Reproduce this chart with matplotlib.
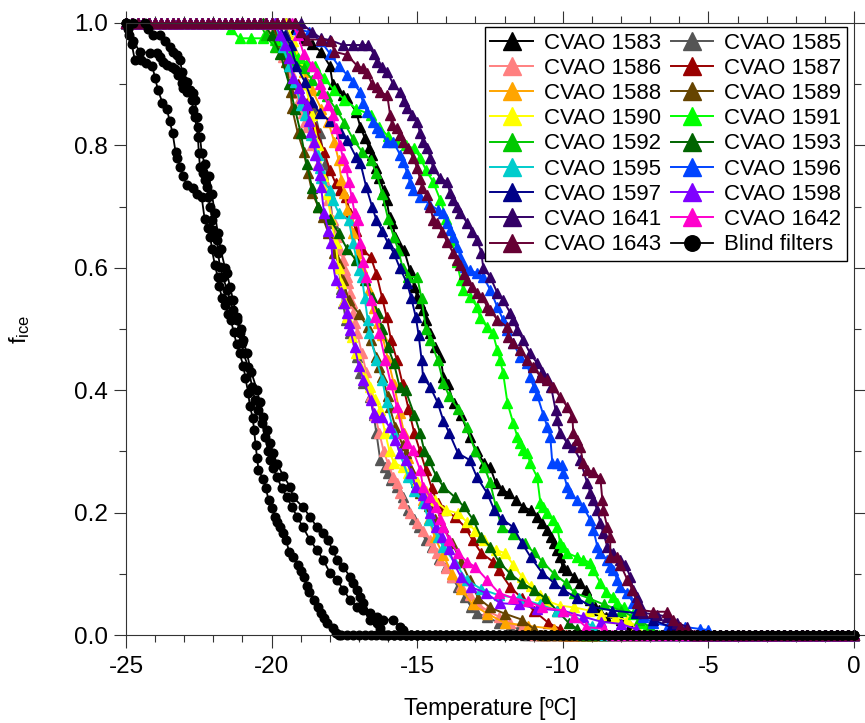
###### Ice nucleation spectra, CVAO filter samples vs blind filters ######

import matplotlib
matplotlib.use('Agg')
from matplotlib import pyplot as plt
from matplotlib.ticker import MultipleLocator

plt.rcParams['font.family'] = ['Liberation Sans', 'DejaVu Sans']
plt.rcParams['mathtext.default'] = 'regular'
plt.rcParams['axes.unicode_minus'] = False

# ----- temperature readout steps where a curve sits flat at f=1 or f=0 ----- #
grid_t = [-25.0, -24.8, -24.6, -24.4, -24.2, -24.0, -23.8, -23.6, -23.4, -23.2,
          -23.0, -22.8, -22.6, -22.4, -22.2, -22.0, -21.8, -21.6, -21.4, -21.2,
          -21.0, -20.8, -20.6, -20.4, -20.2, -20.0, -19.8, -19.6, -19.4, -19.2,
          -19.0, -18.8, -18.6, -18.4, -18.2, -18.0, -17.8, -17.6, -17.4, -17.2,
          -17.0, -16.8, -16.6, -16.4, -16.2, -16.0, -15.8, -15.6, -15.4, -15.2,
          -15.0, -14.8, -14.6, -14.4, -14.2, -14.0, -13.8, -13.6, -13.4, -13.2,
          -13.0, -12.8, -12.6, -12.4, -12.2, -12.0, -11.8, -11.6, -11.4, -11.2,
          -11.0, -10.8, -10.6, -10.4, -10.2, -10.0, -9.8, -9.6, -9.4, -9.2,
          -9.0, -8.8, -8.6, -8.4, -8.2, -8.0, -7.8, -7.6, -7.4, -7.2,
          -7.0, -6.8, -6.6, -6.4, -6.2, -6.0, -5.8, -5.6, -5.4, -5.2,
          -5.0, -4.8, -4.6, -4.4, -4.2, -4.0, -3.8, -3.6, -3.4, -3.2,
          -3.0, -2.8, -2.6, -2.4, -2.2, -2.0, -1.8, -1.6, -1.4, -1.2,
          -1.0, -0.8, -0.6, -0.4, -0.2, 0.0]

# ----- freezing part of each spectrum: (temperature degC, f_ice) ----- #
cvao_1583 = [(-19.5, 1.0), (-19.2, 0.99), (-18.9, 0.975), (-18.6, 0.965), (-18.3, 0.953), (-18.0, 0.93),
             (-17.9, 0.90), (-17.75, 0.894), (-17.55, 0.882), (-17.4, 0.877), (-17.1, 0.855), (-16.95, 0.83),
             (-16.8, 0.812), (-16.65, 0.796), (-16.55, 0.784), (-16.4, 0.763), (-16.3, 0.747), (-16.15, 0.727),
             (-16.05, 0.71), (-15.95, 0.683), (-15.85, 0.673), (-15.75, 0.65), (-15.6, 0.634), (-15.45, 0.629),
             (-15.25, 0.596), (-15.1, 0.569), (-15.0, 0.552), (-14.9, 0.542), (-14.8, 0.531), (-14.7, 0.515),
             (-14.55, 0.493), (-14.4, 0.47), (-14.2, 0.454), (-14.1, 0.422), (-13.95, 0.41), (-13.75, 0.379),
             (-13.5, 0.36), (-13.2, 0.324), (-12.95, 0.30), (-12.7, 0.281), (-12.5, 0.275), (-12.3, 0.248),
             (-12.1, 0.237), (-11.85, 0.232), (-11.6, 0.22), (-11.35, 0.209), (-11.1, 0.204), (-10.9, 0.193),
             (-10.7, 0.183), (-10.55, 0.172), (-10.4, 0.16), (-10.3, 0.15), (-10.2, 0.139), (-10.1, 0.127),
             (-10.0, 0.111), (-9.85, 0.106), (-9.6, 0.095), (-9.4, 0.085), (-9.2, 0.074), (-9.05, 0.057),
             (-8.9, 0.046), (-8.75, 0.041), (-8.5, 0.03), (-8.0, 0.025), (-7.7, 0.015), (-7.5, 0.0)]

cvao_1585 = [(-19.6, 1.0), (-19.3, 0.97), (-19.0, 0.94), (-18.75, 0.9), (-18.55, 0.86), (-18.35, 0.82),
             (-18.15, 0.77), (-18.0, 0.72), (-17.9, 0.673), (-17.8, 0.64), (-17.7, 0.6), (-17.6, 0.565),
             (-17.55, 0.542), (-17.45, 0.515), (-17.3, 0.493), (-17.06, 0.454), (-16.96, 0.428), (-16.86, 0.412),
             (-16.62, 0.389), (-16.5, 0.36), (-16.4, 0.33), (-16.27, 0.286), (-16.1, 0.275), (-16.0, 0.265),
             (-15.9, 0.253), (-15.7, 0.242), (-15.5, 0.225), (-15.3, 0.204), (-15.1, 0.19), (-14.95, 0.176),
             (-14.7, 0.155), (-14.5, 0.144), (-14.25, 0.125), (-14.0, 0.111), (-13.8, 0.095), (-13.6, 0.078),
             (-13.35, 0.062), (-13.15, 0.046), (-12.95, 0.036), (-12.6, 0.029), (-12.2, 0.02), (-11.8, 0.013),
             (-11.5, 0.01), (-11.3, 0.0)]

cvao_1586 = [(-20.3, 1.0), (-20.1, 0.98), (-19.85, 0.96), (-19.6, 0.945), (-19.45, 0.936), (-19.35, 0.92),
             (-19.25, 0.9), (-19.12, 0.885), (-19.07, 0.874), (-19.02, 0.863), (-18.92, 0.853), (-18.85, 0.838),
             (-18.78, 0.83), (-18.6, 0.8), (-18.4, 0.77), (-18.2, 0.743), (-18.05, 0.71), (-17.89, 0.678),
             (-17.75, 0.65), (-17.65, 0.629), (-17.54, 0.613), (-17.47, 0.596), (-17.41, 0.585), (-17.37, 0.575),
             (-17.3, 0.559), (-17.23, 0.542), (-17.2, 0.526), (-17.13, 0.51), (-17.06, 0.493), (-16.9, 0.46),
             (-16.75, 0.43), (-16.6, 0.39), (-16.45, 0.36), (-16.3, 0.33), (-16.15, 0.3), (-16.0, 0.28),
             (-15.82, 0.258), (-15.69, 0.248), (-15.58, 0.232), (-15.48, 0.216), (-15.24, 0.199), (-15.0, 0.183),
             (-14.8, 0.17), (-14.55, 0.155), (-14.45, 0.144), (-14.31, 0.134), (-14.21, 0.123), (-14.0, 0.11),
             (-13.8, 0.095), (-13.5, 0.08), (-13.2, 0.065), (-12.9, 0.05), (-12.6, 0.04), (-12.2, 0.03),
             (-11.8, 0.02), (-11.4, 0.012), (-11.0, 0.0)]

cvao_1587 = [(-20.0, 1.0), (-19.7, 0.97), (-19.4, 0.93), (-19.1, 0.9), (-18.8, 0.869), (-18.5, 0.83),
             (-18.2, 0.79), (-18.0, 0.76), (-17.8, 0.738), (-17.65, 0.727), (-17.45, 0.716), (-17.3, 0.69),
             (-17.1, 0.66), (-16.9, 0.63), (-16.6, 0.618), (-16.4, 0.59), (-16.2, 0.55), (-16.05, 0.52),
             (-15.9, 0.482), (-15.7, 0.45), (-15.5, 0.41), (-15.3, 0.37), (-15.1, 0.33), (-14.9, 0.3),
             (-14.7, 0.27), (-14.5, 0.24), (-14.3, 0.215), (-14.1, 0.205), (-13.7, 0.193), (-13.35, 0.176),
             (-13.1, 0.155), (-12.8, 0.134), (-12.4, 0.12), (-12.2, 0.106), (-11.8, 0.078), (-11.4, 0.06),
             (-11.0, 0.04), (-10.5, 0.02), (-10.1, 0.01), (-9.9, 0.0)]

cvao_1588 = [(-19.8, 1.0), (-19.5, 0.97), (-19.2, 0.95), (-18.9, 0.92), (-18.6, 0.89), (-18.3, 0.86),
             (-18.05, 0.838), (-17.85, 0.806), (-17.7, 0.776), (-17.6, 0.743), (-17.5, 0.722), (-17.4, 0.694),
             (-17.3, 0.678), (-17.2, 0.657), (-17.05, 0.624), (-16.9, 0.6), (-16.8, 0.585), (-16.65, 0.564),
             (-16.5, 0.535), (-16.35, 0.51), (-16.2, 0.49), (-16.0, 0.45), (-15.8, 0.41), (-15.6, 0.363),
             (-15.45, 0.33), (-15.3, 0.29), (-15.2, 0.27), (-15.0, 0.25), (-14.8, 0.22), (-14.6, 0.19),
             (-14.4, 0.16), (-14.1, 0.13), (-13.8, 0.1), (-13.5, 0.075), (-13.1, 0.05), (-12.6, 0.035),
             (-12.0, 0.02), (-11.2, 0.015), (-10.3, 0.01), (-10.0, 0.0)]

cvao_1589 = [(-20.2, 1.0), (-19.8, 0.98), (-19.6, 0.964), (-19.5, 0.936), (-19.35, 0.887), (-19.3, 0.861),
             (-19.1, 0.82), (-18.9, 0.79), (-18.75, 0.755), (-18.6, 0.722), (-18.4, 0.7), (-18.25, 0.683),
             (-18.05, 0.657), (-17.85, 0.624), (-17.7, 0.608), (-17.55, 0.58), (-17.35, 0.547), (-17.0, 0.525),
             (-16.7, 0.503), (-16.6, 0.482), (-16.4, 0.455), (-16.3, 0.438), (-16.2, 0.422), (-16.0, 0.39),
             (-15.95, 0.373), (-15.75, 0.34), (-15.5, 0.31), (-15.4, 0.297), (-15.2, 0.27), (-15.05, 0.25),
             (-14.9, 0.232), (-14.6, 0.21), (-14.4, 0.19), (-14.1, 0.176), (-13.8, 0.15), (-13.5, 0.12),
             (-13.2, 0.09), (-12.9, 0.06), (-12.5, 0.045), (-12.0, 0.035), (-11.4, 0.025), (-11.0, 0.01),
             (-10.7, 0.0)]

cvao_1590 = [(-19.5, 1.0), (-19.25, 0.97), (-19.05, 0.94), (-18.85, 0.9), (-18.6, 0.85), (-18.4, 0.8),
             (-18.25, 0.75), (-18.1, 0.72), (-17.95, 0.68), (-17.8, 0.64), (-17.7, 0.6), (-17.6, 0.575),
             (-17.5, 0.545), (-17.4, 0.52), (-17.25, 0.487), (-17.1, 0.46), (-16.95, 0.44), (-16.8, 0.42),
             (-16.62, 0.405), (-16.45, 0.385), (-16.27, 0.368), (-16.1, 0.33), (-15.95, 0.3), (-15.8, 0.281),
             (-15.5, 0.275), (-15.3, 0.265), (-15.0, 0.25), (-14.7, 0.235), (-14.4, 0.22), (-14.0, 0.204),
             (-13.6, 0.199), (-13.3, 0.185), (-13.0, 0.17), (-12.7, 0.155), (-12.3, 0.139), (-12.0, 0.134),
             (-11.7, 0.115), (-11.4, 0.095), (-11.1, 0.08), (-10.8, 0.065), (-10.5, 0.055), (-10.1, 0.048),
             (-9.6, 0.045), (-9.1, 0.04), (-8.7, 0.033), (-8.2, 0.028), (-7.8, 0.025), (-7.5, 0.015),
             (-7.3, 0.0)]

cvao_1591 = [(-21.6, 1.0), (-21.4, 0.99), (-21.1, 0.975), (-20.7, 0.975), (-20.3, 0.975), (-19.9, 0.972),
             (-19.6, 0.972), (-19.35, 0.955), (-19.1, 0.943), (-18.8, 0.935), (-18.5, 0.93), (-18.2, 0.91),
             (-17.85, 0.89), (-17.5, 0.875), (-17.1, 0.86), (-16.6, 0.85), (-16.3, 0.83), (-16.0, 0.815),
             (-15.7, 0.806), (-15.4, 0.8), (-15.1, 0.795), (-14.9, 0.78), (-14.7, 0.76), (-14.45, 0.74),
             (-14.2, 0.71), (-14.0, 0.68), (-13.8, 0.645), (-13.65, 0.61), (-13.5, 0.58), (-13.42, 0.563),
             (-13.18, 0.552), (-12.94, 0.536), (-12.84, 0.518), (-12.6, 0.503), (-12.4, 0.493), (-12.25, 0.466),
             (-12.15, 0.449), (-12.05, 0.428), (-11.9, 0.379), (-11.7, 0.346), (-11.56, 0.324), (-11.46, 0.314),
             (-11.36, 0.302), (-11.22, 0.297), (-11.12, 0.281), (-10.88, 0.258), (-10.77, 0.216), (-10.67, 0.209),
             (-10.53, 0.199), (-10.33, 0.188), (-10.19, 0.176), (-10.09, 0.15), (-9.98, 0.144), (-9.85, 0.134),
             (-9.5, 0.127), (-9.3, 0.123), (-9.05, 0.118), (-8.95, 0.106), (-8.71, 0.085), (-8.5, 0.07),
             (-8.26, 0.062), (-8.13, 0.052), (-7.9, 0.046), (-7.6, 0.035), (-7.34, 0.02), (-7.15, 0.01),
             (-7.0, 0.0)]

cvao_1592 = [(-20.4, 1.0), (-20.2, 0.98), (-19.9, 0.96), (-19.6, 0.953), (-19.3, 0.94), (-18.9, 0.926),
             (-18.6, 0.907), (-18.3, 0.89), (-18.1, 0.88), (-17.8, 0.86), (-17.5, 0.837), (-17.2, 0.81),
             (-16.9, 0.79), (-16.6, 0.776), (-16.4, 0.755), (-16.2, 0.72), (-16.0, 0.68), (-15.8, 0.65),
             (-15.65, 0.629), (-15.5, 0.6), (-15.3, 0.585), (-15.0, 0.585), (-14.85, 0.55), (-14.7, 0.5),
             (-14.55, 0.482), (-14.3, 0.45), (-14.1, 0.412), (-13.9, 0.39), (-13.6, 0.37), (-13.3, 0.34),
             (-13.0, 0.3), (-12.7, 0.275), (-12.5, 0.25), (-12.3, 0.21), (-12.1, 0.176), (-11.7, 0.165),
             (-11.3, 0.15), (-11.0, 0.135), (-10.7, 0.12), (-10.3, 0.1), (-9.9, 0.085), (-9.6, 0.069),
             (-9.1, 0.06), (-8.6, 0.05), (-8.0, 0.04), (-7.4, 0.025), (-7.0, 0.013), (-6.7, 0.0)]

cvao_1593 = [(-20.3, 1.0), (-20.0, 0.98), (-19.7, 0.95), (-19.4, 0.9), (-19.2, 0.86), (-19.0, 0.82),
             (-18.8, 0.77), (-18.6, 0.73), (-18.4, 0.7), (-18.0, 0.68), (-17.7, 0.657), (-17.4, 0.63),
             (-17.1, 0.613), (-16.8, 0.58), (-16.55, 0.552), (-16.35, 0.526), (-16.2, 0.5), (-16.0, 0.47),
             (-15.8, 0.444), (-15.6, 0.405), (-15.4, 0.4), (-15.1, 0.36), (-14.9, 0.33), (-14.75, 0.3),
             (-14.6, 0.286), (-14.35, 0.26), (-14.1, 0.242), (-13.7, 0.225), (-13.4, 0.21), (-13.1, 0.19),
             (-12.8, 0.16), (-12.5, 0.144), (-12.2, 0.12), (-11.8, 0.1), (-11.4, 0.085), (-11.0, 0.074),
             (-10.6, 0.06), (-10.2, 0.04), (-9.8, 0.02), (-9.5, 0.01), (-9.3, 0.0)]

cvao_1595 = [(-19.9, 1.0), (-19.6, 0.96), (-19.4, 0.93), (-19.2, 0.903), (-19.0, 0.866), (-18.85, 0.85),
             (-18.65, 0.817), (-18.4, 0.784), (-18.35, 0.763), (-18.3, 0.747), (-18.0, 0.727), (-17.9, 0.711),
             (-17.7, 0.69), (-17.35, 0.678), (-17.2, 0.64), (-17.0, 0.596), (-16.9, 0.585), (-16.8, 0.55),
             (-16.7, 0.515), (-16.65, 0.493), (-16.4, 0.45), (-16.2, 0.417), (-16.05, 0.38), (-15.8, 0.33),
             (-15.6, 0.297), (-15.3, 0.258), (-15.1, 0.235), (-14.8, 0.216), (-14.6, 0.188), (-14.3, 0.16),
             (-14.1, 0.144), (-13.7, 0.118), (-13.3, 0.09), (-12.8, 0.075), (-12.2, 0.065), (-11.5, 0.06),
             (-10.8, 0.05), (-10.2, 0.04), (-9.6, 0.03), (-9.0, 0.015), (-8.6, 0.0)]

cvao_1596 = [(-19.4, 1.0), (-19.1, 0.99), (-18.7, 0.985), (-18.3, 0.97), (-18.0, 0.95), (-17.7, 0.93),
             (-17.4, 0.915), (-17.2, 0.903), (-16.96, 0.887), (-16.86, 0.87), (-16.72, 0.855), (-16.51, 0.838),
             (-16.37, 0.828), (-16.27, 0.822), (-16.03, 0.806), (-15.82, 0.806), (-15.58, 0.784), (-15.48, 0.773),
             (-15.34, 0.755), (-15.24, 0.738), (-15.14, 0.727), (-14.9, 0.715), (-14.6, 0.705), (-14.28, 0.694),
             (-14.1, 0.69), (-13.97, 0.673), (-13.87, 0.662), (-13.76, 0.65), (-13.62, 0.634), (-13.52, 0.618),
             (-13.35, 0.601), (-13.18, 0.596), (-12.94, 0.591), (-12.73, 0.585), (-12.49, 0.564), (-12.25, 0.536),
             (-12.05, 0.515), (-11.9, 0.498), (-11.7, 0.477), (-11.46, 0.454), (-11.22, 0.444), (-11.12, 0.422),
             (-11.0, 0.405), (-10.88, 0.392), (-10.67, 0.36), (-10.53, 0.34), (-10.43, 0.324), (-10.36, 0.281),
             (-10.19, 0.281), (-10.02, 0.278), (-9.98, 0.265), (-9.85, 0.242), (-9.74, 0.232), (-9.5, 0.22),
             (-9.3, 0.209), (-9.05, 0.188), (-8.95, 0.172), (-8.81, 0.144), (-8.71, 0.134), (-8.47, 0.123),
             (-8.37, 0.111), (-8.26, 0.106), (-8.13, 0.09), (-8.02, 0.078), (-7.78, 0.069), (-7.58, 0.052),
             (-7.44, 0.041), (-7.23, 0.029), (-6.9, 0.02), (-6.4, 0.015), (-5.8, 0.013), (-5.3, 0.01),
             (-5.0, 0.008), (-4.8, 0.0)]

cvao_1597 = [(-19.8, 1.0), (-19.55, 0.98), (-19.35, 0.964), (-19.15, 0.93), (-18.85, 0.903), (-18.6, 0.871),
             (-18.35, 0.853), (-18.0, 0.84), (-17.6, 0.82), (-17.4, 0.809), (-17.1, 0.781), (-16.95, 0.771),
             (-16.75, 0.732), (-16.55, 0.7), (-16.4, 0.678), (-16.2, 0.66), (-16.0, 0.64), (-15.8, 0.624),
             (-15.6, 0.6), (-15.35, 0.575), (-15.2, 0.55), (-15.05, 0.52), (-14.95, 0.49), (-14.85, 0.45),
             (-14.8, 0.422), (-14.55, 0.405), (-14.3, 0.38), (-14.1, 0.35), (-13.9, 0.33), (-13.6, 0.297),
             (-13.2, 0.286), (-12.95, 0.258), (-12.6, 0.232), (-12.35, 0.204), (-12.1, 0.19), (-11.7, 0.176),
             (-11.4, 0.15), (-11.1, 0.127), (-10.7, 0.101), (-10.3, 0.085), (-10.0, 0.074), (-9.5, 0.06),
             (-9.0, 0.046), (-8.3, 0.04), (-7.5, 0.036), (-6.9, 0.025), (-6.3, 0.013), (-5.8, 0.0)]

cvao_1598 = [(-19.9, 1.0), (-19.7, 0.98), (-19.55, 0.964), (-19.4, 0.943), (-19.25, 0.91), (-19.05, 0.894),
             (-18.95, 0.877), (-18.8, 0.866), (-18.7, 0.84), (-18.65, 0.822), (-18.55, 0.806), (-18.5, 0.784),
             (-18.4, 0.768), (-18.35, 0.752), (-18.3, 0.732), (-18.2, 0.69), (-18.05, 0.66), (-17.95, 0.64),
             (-17.9, 0.608), (-17.8, 0.58), (-17.6, 0.56), (-17.5, 0.542), (-17.4, 0.526), (-17.35, 0.51),
             (-17.3, 0.498), (-17.15, 0.47), (-17.0, 0.44), (-16.85, 0.417), (-16.6, 0.384), (-16.5, 0.363),
             (-16.4, 0.356), (-16.2, 0.356), (-15.95, 0.34), (-15.75, 0.319), (-15.6, 0.297), (-15.4, 0.286),
             (-15.2, 0.265), (-15.05, 0.242), (-14.8, 0.228), (-14.7, 0.216), (-14.55, 0.199), (-14.35, 0.176),
             (-14.15, 0.16), (-13.9, 0.14), (-13.75, 0.118), (-13.5, 0.095), (-13.15, 0.078), (-12.65, 0.069),
             (-12.15, 0.052), (-11.5, 0.05), (-10.9, 0.043), (-10.0, 0.04), (-9.3, 0.03), (-8.7, 0.022),
             (-8.0, 0.018), (-7.5, 0.01), (-7.2, 0.0)]

cvao_1641 = [(-19.0, 1.0), (-18.6, 0.985), (-18.3, 0.975), (-17.99, 0.972), (-17.54, 0.964), (-17.2, 0.964),
             (-16.9, 0.964), (-16.68, 0.964), (-16.5, 0.95), (-16.37, 0.936), (-16.2, 0.928), (-16.03, 0.92),
             (-15.82, 0.9), (-15.58, 0.887), (-15.45, 0.872), (-15.34, 0.861), (-15.17, 0.85), (-15.0, 0.838),
             (-14.9, 0.82), (-14.79, 0.805), (-14.66, 0.796), (-14.55, 0.78), (-14.45, 0.763), (-14.21, 0.747),
             (-13.97, 0.74), (-13.87, 0.722), (-13.76, 0.711), (-13.65, 0.7), (-13.52, 0.69), (-13.28, 0.673),
             (-13.11, 0.659), (-12.94, 0.645), (-12.8, 0.625), (-12.73, 0.6), (-12.49, 0.585), (-12.25, 0.559),
             (-12.05, 0.547), (-11.8, 0.526), (-11.7, 0.515), (-11.56, 0.498), (-11.36, 0.482), (-11.12, 0.46),
             (-10.88, 0.444), (-10.7, 0.43), (-10.53, 0.42), (-10.4, 0.405), (-10.25, 0.368), (-10.19, 0.351),
             (-10.09, 0.33), (-9.85, 0.314), (-9.64, 0.307), (-9.4, 0.286), (-9.16, 0.248), (-9.05, 0.232),
             (-8.95, 0.22), (-8.81, 0.204), (-8.71, 0.183), (-8.61, 0.167), (-8.47, 0.144), (-8.26, 0.134),
             (-8.02, 0.123), (-7.85, 0.114), (-7.68, 0.095), (-7.58, 0.074), (-7.44, 0.062), (-7.3, 0.045),
             (-7.23, 0.036), (-6.75, 0.033), (-6.41, 0.03), (-6.07, 0.02), (-5.72, 0.013), (-5.5, 0.0)]

cvao_1642 = [(-19.3, 1.0), (-19.1, 0.98), (-18.9, 0.95), (-18.6, 0.93), (-18.45, 0.918), (-18.35, 0.9),
             (-18.25, 0.885), (-18.05, 0.866), (-17.9, 0.85), (-17.8, 0.828), (-17.65, 0.8), (-17.55, 0.78),
             (-17.45, 0.765), (-17.35, 0.74), (-17.25, 0.716), (-17.15, 0.69), (-17.05, 0.678), (-16.95, 0.64),
             (-16.85, 0.61), (-16.75, 0.585), (-16.6, 0.547), (-16.45, 0.52), (-16.3, 0.493), (-16.1, 0.45),
             (-15.9, 0.41), (-15.7, 0.373), (-15.5, 0.33), (-15.35, 0.314), (-15.15, 0.302), (-14.9, 0.27),
             (-14.8, 0.242), (-14.55, 0.225), (-14.35, 0.209), (-14.2, 0.19), (-14.1, 0.176), (-13.9, 0.155),
             (-13.6, 0.134), (-13.3, 0.12), (-13.0, 0.111), (-12.6, 0.09), (-12.2, 0.069), (-11.7, 0.06),
             (-11.2, 0.055), (-10.7, 0.045), (-10.0, 0.04), (-9.6, 0.03), (-9.2, 0.013), (-8.6, 0.01),
             (-8.3, 0.0)]

cvao_1643 = [(-19.2, 1.0), (-19.0, 0.985), (-18.8, 0.973), (-18.3, 0.973), (-17.95, 0.97), (-17.85, 0.953),
             (-17.41, 0.948), (-17.06, 0.93), (-16.86, 0.926), (-16.72, 0.918), (-16.55, 0.9), (-16.37, 0.895),
             (-16.27, 0.887), (-16.03, 0.882), (-15.93, 0.85), (-15.86, 0.833), (-15.69, 0.828), (-15.58, 0.817),
             (-15.48, 0.806), (-15.31, 0.796), (-15.14, 0.78), (-15.0, 0.763), (-14.9, 0.745), (-14.83, 0.73),
             (-14.66, 0.719), (-14.55, 0.7), (-14.45, 0.678), (-14.31, 0.673), (-14.14, 0.659), (-13.97, 0.642),
             (-13.76, 0.624), (-13.62, 0.613), (-13.52, 0.605), (-13.4, 0.59), (-13.28, 0.58), (-13.11, 0.569),
             (-12.94, 0.559), (-12.77, 0.552), (-12.59, 0.536), (-12.49, 0.531), (-12.25, 0.515), (-11.9, 0.503),
             (-11.87, 0.487), (-11.7, 0.477), (-11.46, 0.466), (-11.22, 0.449), (-11.01, 0.438), (-10.77, 0.422),
             (-10.53, 0.417), (-10.33, 0.405), (-10.09, 0.389), (-9.85, 0.373), (-9.67, 0.356), (-9.64, 0.33),
             (-9.5, 0.319), (-9.4, 0.307), (-9.3, 0.281), (-9.16, 0.27), (-8.95, 0.266), (-8.71, 0.257),
             (-8.64, 0.22), (-8.61, 0.204), (-8.47, 0.176), (-8.37, 0.16), (-8.37, 0.127), (-8.13, 0.127),
             (-8.02, 0.115), (-7.78, 0.09), (-7.61, 0.074), (-7.44, 0.052), (-7.34, 0.041), (-6.89, 0.038),
             (-6.41, 0.038), (-6.2, 0.025), (-5.96, 0.013), (-5.72, 0.008), (-5.5, 0.0)]

# three blind (field blank) filters
blind_1 = [(-25.0, 1.0), (-24.9, 0.98), (-24.8, 0.965), (-24.7, 0.94), (-24.5, 0.94), (-24.3, 0.935),
           (-24.1, 0.93), (-24.0, 0.91), (-23.9, 0.89), (-23.75, 0.87), (-23.6, 0.86), (-23.5, 0.84),
           (-23.4, 0.82), (-23.3, 0.79), (-23.25, 0.78), (-23.15, 0.765), (-23.05, 0.75), (-22.9, 0.735),
           (-22.7, 0.73), (-22.55, 0.72), (-22.4, 0.715), (-22.3, 0.68), (-22.2, 0.665), (-22.1, 0.65),
           (-22.05, 0.63), (-21.95, 0.605), (-21.85, 0.585), (-21.8, 0.57), (-21.7, 0.55), (-21.6, 0.54),
           (-21.5, 0.525), (-21.4, 0.515), (-21.3, 0.495), (-21.2, 0.475), (-21.1, 0.46), (-20.97, 0.44),
           (-20.9, 0.42), (-20.8, 0.395), (-20.75, 0.375), (-20.65, 0.355), (-20.6, 0.335), (-20.55, 0.31),
           (-20.5, 0.29), (-20.45, 0.27), (-20.3, 0.255), (-20.2, 0.24), (-20.1, 0.22), (-19.98, 0.207),
           (-19.9, 0.193), (-19.8, 0.185), (-19.7, 0.177), (-19.6, 0.167), (-19.5, 0.155), (-19.4, 0.136),
           (-19.25, 0.127), (-19.1, 0.114), (-19.0, 0.105), (-18.9, 0.095), (-18.8, 0.08), (-18.7, 0.07),
           (-18.55, 0.057), (-18.4, 0.045), (-18.3, 0.036), (-18.2, 0.028), (-18.1, 0.02), (-17.9, 0.011),
           (-17.8, 0.003), (-17.7, 0.0)]

blind_2 = [(-25.0, 1.0), (-24.93, 0.99), (-24.75, 0.97), (-24.52, 0.953), (-24.18, 0.951), (-23.93, 0.951),
           (-23.83, 0.945), (-23.73, 0.936), (-23.59, 0.931), (-23.42, 0.928), (-23.32, 0.925), (-23.21, 0.915),
           (-23.08, 0.902), (-23.04, 0.893), (-22.9, 0.887), (-22.73, 0.874), (-22.7, 0.858), (-22.63, 0.846),
           (-22.53, 0.814), (-22.5, 0.788), (-22.46, 0.765), (-22.35, 0.755), (-22.28, 0.743), (-22.22, 0.732),
           (-22.18, 0.716), (-22.11, 0.7), (-22.04, 0.678), (-22.0, 0.662), (-21.87, 0.645), (-21.84, 0.624),
           (-21.77, 0.601), (-21.67, 0.585), (-21.53, 0.564), (-21.43, 0.547), (-21.32, 0.531), (-21.19, 0.515),
           (-21.08, 0.493), (-21.01, 0.477), (-20.97, 0.46), (-20.8, 0.438), (-20.67, 0.405), (-20.57, 0.384),
           (-20.46, 0.368), (-20.33, 0.346), (-20.22, 0.324), (-20.12, 0.3), (-20.05, 0.286), (-19.95, 0.273),
           (-19.81, 0.258), (-19.65, 0.24), (-19.47, 0.225), (-19.3, 0.209), (-19.12, 0.193), (-18.92, 0.176),
           (-18.68, 0.155), (-18.44, 0.139), (-18.23, 0.123), (-17.99, 0.101), (-17.75, 0.09), (-17.54, 0.074),
           (-17.3, 0.057), (-17.06, 0.046), (-16.86, 0.041), (-16.62, 0.025), (-16.37, 0.02), (-16.27, 0.011),
           (-16.1, 0.0)]

blind_3 = [(-25.0, 1.0), (-24.75, 1.0), (-24.35, 1.0), (-24.24, 0.99), (-24.07, 0.98), (-23.83, 0.98),
           (-23.66, 0.97), (-23.49, 0.96), (-23.38, 0.953), (-23.25, 0.948), (-23.14, 0.94), (-23.08, 0.92),
           (-23.04, 0.907), (-22.9, 0.904), (-22.8, 0.89), (-22.7, 0.886), (-22.63, 0.874), (-22.56, 0.846),
           (-22.53, 0.83), (-22.46, 0.814), (-22.4, 0.788), (-22.3, 0.77), (-22.15, 0.75), (-22.05, 0.72),
           (-21.95, 0.69), (-21.85, 0.657), (-21.75, 0.63), (-21.6, 0.6), (-21.53, 0.591), (-21.43, 0.569),
           (-21.32, 0.547), (-21.2, 0.52), (-21.05, 0.5), (-20.97, 0.482), (-20.85, 0.46), (-20.7, 0.43),
           (-20.5, 0.4), (-20.4, 0.38), (-20.29, 0.356), (-20.15, 0.335), (-20.05, 0.314), (-19.95, 0.297),
           (-19.81, 0.28), (-19.6, 0.26), (-19.36, 0.242), (-19.26, 0.225), (-18.92, 0.209), (-18.68, 0.193),
           (-18.44, 0.176), (-18.24, 0.167), (-18.07, 0.155), (-17.9, 0.139), (-17.75, 0.123), (-17.54, 0.111),
           (-17.3, 0.095), (-17.2, 0.085), (-17.06, 0.074), (-16.96, 0.062), (-16.86, 0.052), (-16.62, 0.036),
           (-16.37, 0.029), (-16.17, 0.025), (-15.83, 0.025), (-15.6, 0.013), (-15.5, 0.008), (-15.4, 0.0)]

samples = ['CVAO 1583', 'CVAO 1585', 'CVAO 1586', 'CVAO 1587', 'CVAO 1588', 'CVAO 1589',
           'CVAO 1590', 'CVAO 1591', 'CVAO 1592', 'CVAO 1593', 'CVAO 1595', 'CVAO 1596',
           'CVAO 1597', 'CVAO 1598', 'CVAO 1641', 'CVAO 1642', 'CVAO 1643']
spectra = [cvao_1583, cvao_1585, cvao_1586, cvao_1587, cvao_1588, cvao_1589,
           cvao_1590, cvao_1591, cvao_1592, cvao_1593, cvao_1595, cvao_1596,
           cvao_1597, cvao_1598, cvao_1641, cvao_1642, cvao_1643]
colors = ['#000000', '#555555', '#FF8080', '#990000', '#FFA500', '#664400',
          '#FFFF00', '#00FF00', '#00C800', '#006400', '#00CCCC', '#0044FF',
          '#000088', '#7F00FF', '#330066', '#FF00CC', '#660033']


def full_curve(pts):
    # pad with the flat f=1 start and f=0 end read on the same temperature steps
    t = [p[0] for p in pts]
    f = [p[1] for p in pts]
    head = [g for g in grid_t if g < t[0] - 0.05]
    tail = [g for g in grid_t if g > t[-1] + 0.05]
    return head + t + tail, [1.0] * len(head) + f + [0.0] * len(tail)


# ----- PLOT ----- #
fig = plt.figure(figsize=(8.65, 7.23), dpi=100)
ax = fig.add_axes([126 / 865, 1 - 635 / 723, 728 / 865, 612 / 723])

handles = {}
for name, pts, col in zip(samples, spectra, colors):
    x, y = full_curve(pts)
    h, = ax.plot(x, y, color=col, lw=1.4, marker='^', ms=7, mec=col, mfc=col,
                 label=name, clip_on=False)
    handles[name] = h

for i, pts in enumerate([blind_1, blind_2, blind_3]):
    x, y = full_curve(pts)
    h, = ax.plot(x, y, color='black', lw=1.3, marker='o', ms=6.2,
                 label='Blind filters' if i == 0 else None, clip_on=False)
    if i == 0:
        handles['Blind filters'] = h

ax.set_xlim(-25, 0)
ax.set_ylim(0, 1.0)
ax.xaxis.set_major_locator(MultipleLocator(5))
ax.xaxis.set_minor_locator(MultipleLocator(1))
ax.yaxis.set_major_locator(MultipleLocator(0.2))
ax.yaxis.set_minor_locator(MultipleLocator(0.1))
ax.tick_params(which='both', direction='out', top=True, right=True, width=0.8,
               color='#333333', labelsize=17.5)
ax.tick_params(which='major', length=9)
ax.tick_params(which='minor', length=5)
ax.tick_params(axis='x', pad=6)
ax.tick_params(axis='y', pad=4)
for s in ax.spines.values():
    s.set_color('#333333')
    s.set_linewidth(0.8)

ax.set_xlabel('Temperature [ºC]', fontsize=16.5, labelpad=14)
ax.set_ylabel('$f_{ice}$', fontsize=17, labelpad=30)

order = ['CVAO 1583', 'CVAO 1586', 'CVAO 1588', 'CVAO 1590', 'CVAO 1592', 'CVAO 1595',
         'CVAO 1597', 'CVAO 1641', 'CVAO 1643',
         'CVAO 1585', 'CVAO 1587', 'CVAO 1589', 'CVAO 1591', 'CVAO 1593', 'CVAO 1596',
         'CVAO 1598', 'CVAO 1642', 'Blind filters']
leg = ax.legend([handles[k] for k in order], order, ncol=2, loc='upper right',
                bbox_to_anchor=(1 - 7 / 728, 1 - 4 / 612), borderaxespad=0,
                fontsize=16, markerscale=1.8, handlelength=1.9, handletextpad=0.5,
                columnspacing=0.45, labelspacing=0.19, borderpad=0.25,
                fancybox=False, framealpha=1, edgecolor='black')
leg.get_frame().set_linewidth(1.0)
leg.set_zorder(5)

plt.savefig('out.png', dpi=100)
